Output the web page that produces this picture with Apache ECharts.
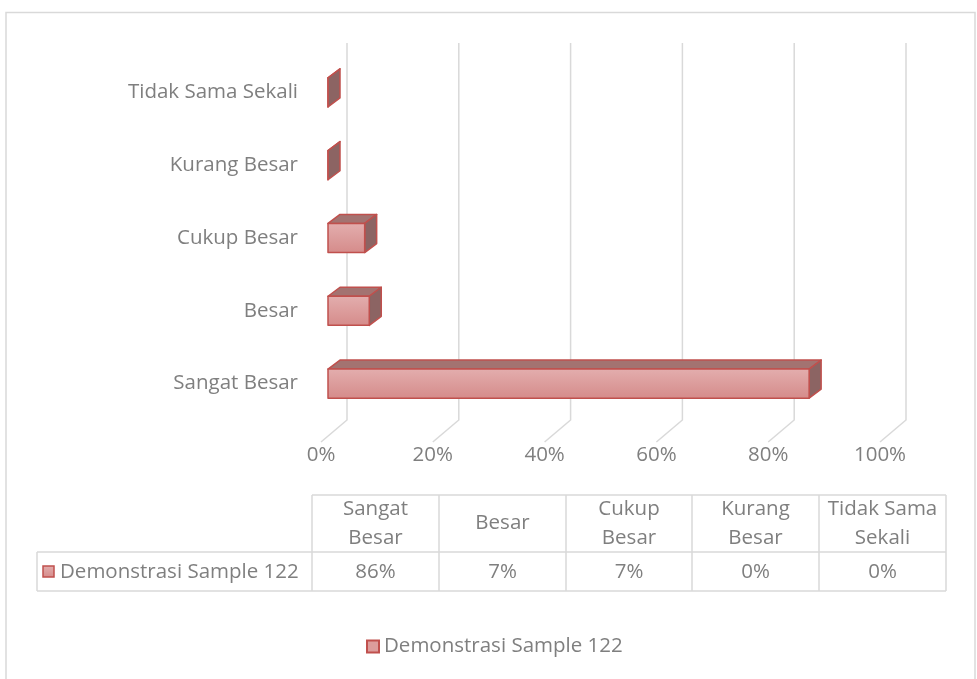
<!DOCTYPE html>
<html>
<head>
<meta charset="utf-8">
<script src="https://cdn.jsdelivr.net/npm/echarts@6/dist/echarts.min.js"></script>
<style>
  html, body { margin: 0; padding: 0; background: #fff; }
  #main { width: 977px; height: 679px; }
</style>
</head>
<body>
<div id="main"></div>
<script>
// data (bottom category first)
const categories = ['Sangat Besar', 'Besar', 'Cukup Besar', 'Kurang Besar', 'Tidak Sama Sekali'];
const values = [0.8607, 0.0738, 0.0656, 0, 0];
const tableHeads = ['Sangat\nBesar', 'Besar', 'Cukup\nBesar', 'Kurang\nBesar', 'Tidak Sama\nSekali'];
const tableValues = ['86%', '7%', '7%', '0%', '0%'];
const xTicks = [0, 0.2, 0.4, 0.6, 0.8, 1];
const seriesName = 'Demonstrasi Sample 122';

const font = 'Open Sans';
const fs = 20.5;
const textColor = '#7f7f7f';
const lineColor = '#d9d9d9';
const barBorder = '#c0504d';
const frontFill = new echarts.graphic.LinearGradient(0, 0, 0, 1, [
  { offset: 0, color: '#e3aeae' },
  { offset: 1, color: '#d58b8a' }
]);

const chart = echarts.init(document.getElementById('main'));

// 3d offsets
const wallDx = 26, floorY = 442, wallTop = 43;
const barDx = 7, depthX = 12, depthY = -9;

function renderGrid(params, api) {
  const p = api.coord([api.value(0), 0]);
  const cs = params.coordSys;
  const bottom = cs.y + cs.height;
  return {
    type: 'polyline',
    shape: { points: [[p[0] + wallDx, wallTop], [p[0] + wallDx, bottom], [p[0], floorY]] },
    style: { stroke: lineColor, lineWidth: 1.5, fill: null },
    silent: true
  };
}

function renderBar(params, api) {
  const cat = api.value(0);
  const v = api.value(1);
  const p0 = api.coord([0, cat]);
  const p1 = api.coord([v, cat]);
  const h = api.size([0, 1])[1] * 0.4;
  const x0 = p0[0] + barDx, x1 = p1[0] + barDx;
  const y0 = p0[1] - h / 2, y1 = p0[1] + h / 2;
  const bs = { stroke: barBorder, lineWidth: 1.5, lineJoin: 'round' };
  return {
    type: 'group',
    children: [
      { type: 'polygon', shape: { points: [[x0, y0], [x1, y0], [x1 + depthX, y0 + depthY], [x0 + depthX, y0 + depthY]] },
        style: Object.assign({ fill: '#a37371' }, bs) },
      { type: 'polygon', shape: { points: [[x1, y0], [x1 + depthX, y0 + depthY], [x1 + depthX, y1 + depthY], [x1, y1]] },
        style: Object.assign({ fill: '#8c6463' }, bs) },
      { type: 'rect', shape: { x: x0, y: y0, width: x1 - x0, height: h },
        style: Object.assign({ fill: frontFill }, bs) }
    ]
  };
}

// data table below the plot
const colX = [312, 439, 566, 692, 819, 946];
const rowY = [495, 552, 591];
const tableLeft = 37;
const tableGraphics = [];
function hline(x1, x2, y) {
  tableGraphics.push({ type: 'line', shape: { x1: x1, y1: y, x2: x2, y2: y }, style: { stroke: lineColor, lineWidth: 1.5 }, silent: true });
}
function vline(x, y1, y2) {
  tableGraphics.push({ type: 'line', shape: { x1: x, y1: y1, x2: x, y2: y2 }, style: { stroke: lineColor, lineWidth: 1.5 }, silent: true });
}
hline(colX[0], colX[5], rowY[0]);
hline(tableLeft, colX[5], rowY[1]);
hline(tableLeft, colX[5], rowY[2]);
colX.forEach(function (x) { vline(x, rowY[0], rowY[2]); });
vline(tableLeft, rowY[1], rowY[2]);
tableHeads.forEach(function (t, i) {
  tableGraphics.push({ type: 'text', x: (colX[i] + colX[i + 1]) / 2, y: (rowY[0] + rowY[1]) / 2,
    style: { text: t, font: fs + 'px ' + font, fill: textColor, align: 'center', verticalAlign: 'middle', lineHeight: 29 } });
  tableGraphics.push({ type: 'text', x: (colX[i] + colX[i + 1]) / 2, y: (rowY[1] + rowY[2]) / 2 + 1,
    style: { text: tableValues[i], font: fs + 'px ' + font, fill: textColor, align: 'center', verticalAlign: 'middle' } });
});
tableGraphics.push({ type: 'rect', shape: { x: 43, y: 566, width: 11, height: 11 },
  style: { fill: frontFill, stroke: barBorder, lineWidth: 1.5 } });
tableGraphics.push({ type: 'text', x: 60, y: (rowY[1] + rowY[2]) / 2 + 1,
  style: { text: seriesName, font: fs + 'px ' + font, fill: textColor, align: 'left', verticalAlign: 'middle' } });
// outer chart frame
tableGraphics.push({ type: 'rect', shape: { x: 6, y: 12.5, width: 969, height: 700 },
  style: { fill: null, stroke: lineColor, lineWidth: 1.5 }, silent: true, z: -1 });

chart.setOption({
  backgroundColor: '#fff',
  animation: false,
  textStyle: { fontFamily: font },
  grid: { left: 321, width: 559, top: 56, height: 364 },
  xAxis: {
    type: 'value', min: 0, max: 1, interval: 0.2,
    axisLine: { show: false }, axisTick: { show: false }, splitLine: { show: false },
    axisLabel: { margin: 25, fontSize: fs, color: textColor, fontFamily: font,
      formatter: function (v) { return Math.round(v * 100) + '%'; } }
  },
  yAxis: {
    type: 'category', data: categories,
    axisLine: { show: false }, axisTick: { show: false },
    axisLabel: { margin: 23, fontSize: fs, color: textColor, fontFamily: font }
  },
  legend: {
    data: [seriesName], left: 361, top: 631, icon: 'rect', itemWidth: 12, itemHeight: 12, itemGap: 6,
    textStyle: { fontSize: fs, color: textColor, fontFamily: font }
  },
  series: [
    { type: 'custom', name: 'grid3d', renderItem: renderGrid, data: xTicks.map(function (t) { return [t]; }),
      encode: { x: 0 }, clip: false, silent: true, z: 1 },
    { type: 'custom', name: seriesName, renderItem: renderBar,
      itemStyle: { color: '#dc9d9c', borderColor: barBorder, borderWidth: 1.5 },
      data: values.map(function (v, i) { return [i, v]; }),
      encode: { y: 0, x: 1 }, clip: false, z: 3 }
  ],
  graphic: tableGraphics
});
</script>
</body>
</html>
